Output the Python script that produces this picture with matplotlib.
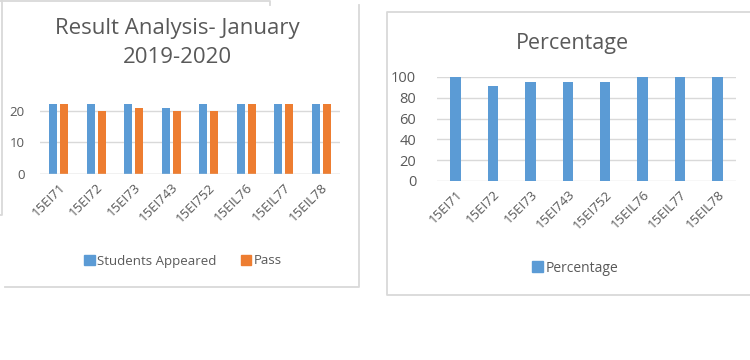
import matplotlib
matplotlib.use("Agg")
import matplotlib.pyplot as plt
from matplotlib.lines import Line2D
from matplotlib.patches import Patch
import numpy as np

plt.rcParams['font.family'] = ['Open Sans', 'DejaVu Sans']

categories = ["15EI71", "15EI72", "15EI73", "15EI743", "15EI752", "15EIL76", "15EIL77", "15EIL78"]
students_appeared = [22, 22, 22, 21, 22, 22, 22, 22]
passed = [22, 20, 21, 20, 20, 22, 22, 22]
percentage = [100, 90.91, 95.45, 95.24, 95.45, 100, 100, 100]

BLUE = "#5B9BD5"
ORANGE = "#ED7D31"
GRID = "#D9D9D9"
TXT = "#595959"
FRAME = "#D9D9D9"

W, H = 750, 360
fig = plt.figure(figsize=(W / 100, H / 100), dpi=100)
fig.patch.set_facecolor("white")


def px_axes(x0, y_top, x1, y_bot):
    return fig.add_axes([x0 / W, 1 - y_bot / H, (x1 - x0) / W, (y_bot - y_top) / H])


def fline(xs, ys):
    fig.add_artist(Line2D([x / W for x in xs], [1 - y / H for y in ys],
                          transform=fig.transFigure, color=FRAME, lw=1.3))


# Frames
fline([0, 270, 270], [1, 1, 5])
fline([2, 2, 0], [0, 215, 215])
fline([359, 359, 5], [5, 287, 287])
fline([750, 387, 387, 750], [12, 12, 295, 295])


def style(ax, ymax, ticks, ysize, ypad):
    ax.set_ylim(0, ymax)
    ax.set_xlim(-0.5, len(categories) - 0.5)
    ax.set_yticks(ticks)
    ax.yaxis.grid(True, color=GRID, lw=1)
    ax.set_axisbelow(True)
    for s in ["top", "right", "left", "bottom"]:
        ax.spines[s].set_visible(False)
    ax.tick_params(axis="both", length=0, colors=TXT)
    ax.tick_params(axis="y", pad=ypad, labelsize=ysize)
    ax.set_xticks(np.arange(len(categories)))
    ax.set_xticklabels(categories, rotation=45, ha="right", rotation_mode="anchor", color=TXT)
    ax.tick_params(axis="x", pad=5, labelsize=9.5)


# Left chart
ax1 = px_axes(40, 95, 340, 174)
x = np.arange(len(categories))
ax1.bar(x - 0.145, students_appeared, width=0.215, color=BLUE)
ax1.bar(x + 0.145, passed, width=0.215, color=ORANGE)
style(ax1, 25, [0, 10, 20], 9.5, 11)
ax1.axhline(0, color=GRID, lw=1)
fig.text(177 / W, 1 - 43 / H, "Result Analysis- January\n2019-2020", ha="center", va="center",
         fontsize=16, color=TXT, linespacing=1.45)
fig.legend(handles=[Patch(color=BLUE, label="Students Appeared"), Patch(color=ORANGE, label="Pass")],
           loc="center", bbox_to_anchor=(183 / W, 1 - 261 / H), ncol=2, frameon=False,
           fontsize=9.5, labelcolor=TXT, handlelength=0.8, handleheight=0.8,
           handletextpad=0.2, columnspacing=1.8)

# Right chart
ax2 = px_axes(437, 77, 736, 181)
ax2.bar(x, percentage, width=0.28, color=BLUE)
style(ax2, 100, [0, 20, 40, 60, 80, 100], 10.5, 15)
fig.text(572 / W, 1 - 43 / H, "Percentage", ha="center", va="center", fontsize=15.5, color=TXT)
fig.legend(handles=[Patch(color=BLUE, label="Percentage")],
           loc="center", bbox_to_anchor=(575 / W, 1 - 268 / H), frameon=False,
           fontsize=10, labelcolor=TXT, handlelength=0.8, handleheight=0.8,
           handletextpad=0.2)

fig.savefig("out.png", dpi=100, facecolor="white")
